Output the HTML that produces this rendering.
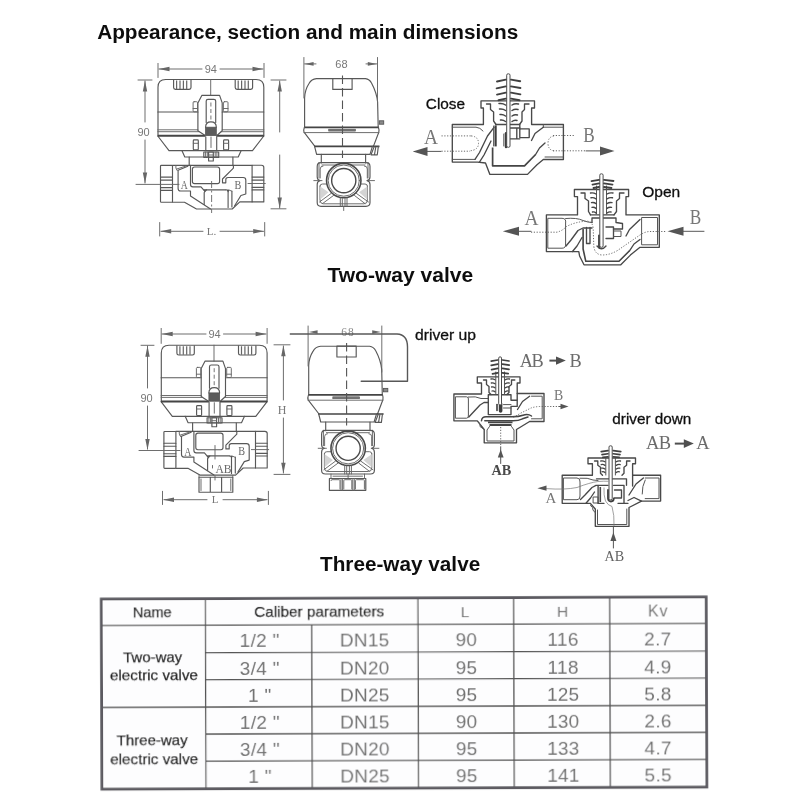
<!DOCTYPE html>
<html>
<head>
<meta charset="utf-8">
<title>Valve dimensions</title>
<style>
html,body{margin:0;padding:0;background:#fff;}
body{width:800px;height:800px;overflow:hidden;position:relative;font-family:"Liberation Sans",sans-serif;}
svg{position:absolute;left:0;top:0;display:block;}
.h{font-family:"Liberation Sans",sans-serif;font-weight:bold;font-size:20.6px;fill:#111;}
.lb{font-family:"Liberation Sans",sans-serif;font-size:14px;fill:#111;stroke:#111;stroke-width:0.3px;}
.tk{font-family:"Liberation Sans",sans-serif;font-size:14.6px;fill:#1a1a1a;stroke:#1a1a1a;stroke-width:0.25px;}
.tg{font-family:"Liberation Sans",sans-serif;font-size:19px;fill:#727272;letter-spacing:0.3px;}
.sf{font-family:"Liberation Serif",serif;fill:#777;}
.dm{font-family:"Liberation Sans",sans-serif;font-size:11px;fill:#777;}
.ln{fill:none;stroke:#585858;stroke-width:1.15;stroke-linejoin:round;stroke-linecap:round;}
.lt{fill:none;stroke:#666;stroke-width:0.95;stroke-linejoin:round;stroke-linecap:round;}
.lk{fill:none;stroke:#444;stroke-width:1.4;stroke-linejoin:round;stroke-linecap:round;}
.dt{fill:none;stroke:#666;stroke-width:1;stroke-dasharray:1.2 1.6;}
.ds{fill:none;stroke:#666;stroke-width:0.9;stroke-dasharray:5 3;}
.ah{fill:#666;stroke:none;}
.sv{fill:none;stroke:#484848;stroke-width:1.35;stroke-linejoin:round;stroke-linecap:round;}
.sw{fill:none;stroke:#555;stroke-width:1;stroke-linejoin:round;stroke-linecap:round;}
.ad{fill:#555;stroke:none;}
</style>
</head>
<body>
<svg width="800" height="800" viewBox="0 0 800 800">
<rect x="0" y="0" width="800" height="800" fill="#ffffff"/>
<defs>
<filter id="gs" x="-3%" y="-5%" width="106%" height="110%"><feGaussianBlur stdDeviation="0.18"/></filter>
<filter id="soft" x="-2%" y="-2%" width="104%" height="104%"><feGaussianBlur stdDeviation="0.38"/></filter>
<g id="actF">
<!-- actuator front view, absolute coords of two-way drawing -->
<path class="ln" d="M158 136 V87.2 Q158 79.5 165.7 79.5 H256.1 Q263.8 79.5 263.8 87.2 V136"/>
<path class="ln" d="M157.8 136 L169 150.6 H252.5 L263.8 136"/>
<!-- vents -->
<path class="ln" d="M173.6 80 V87.6 Q173.6 89.3 175.4 89.3 H189.2 Q191 89.3 191 87.6 V80"/>
<path d="M176.6 80.5 V89 M180 80.5 V89 M183.4 80.5 V89 M186.7 80.5 V89" fill="none" stroke="#666" stroke-width="1.2"/>
<path class="ln" d="M235.2 80 V87.6 Q235.2 89.3 237 89.3 H250.8 Q252.6 89.3 252.6 87.6 V80"/>
<path d="M238.2 80.5 V89 M241.6 80.5 V89 M245 80.5 V89 M248.3 80.5 V89" fill="none" stroke="#666" stroke-width="1.2"/>
<!-- centre line -->
<path class="lt" d="M210.7 79.5 V95.4"/>
<!-- horizontal lines -->
<path class="ln" d="M157.8 112 H197.9 M222.2 112 H263.8"/>
<path class="lt" d="M157.8 129.8 H197.9 M222.2 129.8 H263.8 M157.8 131.7 H199 M221.2 131.7 H263.8"/>
<path d="M157.8 135.8 H205.6 M216.3 135.8 H263.8" fill="none" stroke="#444" stroke-width="1.9"/>
<!-- centre piece -->
<path class="ln" d="M204.4 135 L197.9 130.8 V102.9 L201.8 95.4 H219.6 L222.2 102.9 V130.8 L217.5 135"/>
<!-- slot -->
<path class="ln" d="M206.2 122.5 V101 Q206.2 99.3 208 99.3 H213.9 Q215.7 99.3 215.7 101 V122.5"/>
<path class="ds" d="M210.9 102.5 V121" style="stroke-dasharray:4 2.5"/>
<!-- dome + dark -->
<path class="ln" d="M205.6 127.2 Q205.6 121.9 210.95 121.9 Q216.3 121.9 216.3 127.2" fill="#fff"/>
<rect x="205.6" y="127.2" width="10.7" height="8.3" fill="#5c5c5c" stroke="#555" stroke-width="0.8"/>
<!-- upper screws -->
<rect class="lt" x="193.1" y="101.7" width="4.4" height="10.1" rx="1"/>
<path class="lt" d="M193.1 108.5 H197.5"/>
<rect class="lt" x="223.4" y="101.7" width="4.6" height="10.1" rx="1"/>
<path class="lt" d="M223.4 108.5 H228"/>
<!-- lower screws -->
<rect class="ln" x="193.3" y="139.9" width="5" height="9.9" rx="0.8"/>
<path class="lt" d="M193.3 143.3 H198.3"/>
<rect class="ln" x="223.6" y="139.9" width="5" height="9.9" rx="0.8"/>
<path class="lt" d="M223.6 143.3 H228.6"/>
<!-- stem -->
<path class="ln" d="M205.8 136.7 V150.6 M216.7 136.7 V150.6"/>
<path class="lt" d="M211 137 V147.5"/>
<!-- sub trapezoid -->
<path class="ln" d="M181.9 150.6 L184.8 157 H238.2 L241.2 150.6"/>
<!-- nut -->
<rect class="ln" x="203.8" y="152" width="14.9" height="5.3" fill="#fff"/>
<path class="lt" d="M205.6 152 V157.3 M207.3 152 V157.3 M215.2 152 V157.3 M216.9 152 V157.3"/>
<rect class="ln" x="208.6" y="152" width="4.7" height="9" fill="#fff"/>
<path class="lt" d="M208.6 155 H213.3"/>
</g>
<g id="actS">
<!-- side actuator (two-way absolute coords) -->
<path class="ln" d="M304.6 127.2 V98 Q304.8 90 309 83.5 Q311.5 79 316.5 78.6 H365.5 Q369.5 79 371.5 83 Q376.8 93 377.6 102 L378.2 127.2"/>
<rect class="ln" x="332.8" y="78.5" width="19.3" height="10.9"/>
<path d="M304.3 127.3 H378.6" fill="none" stroke="#444" stroke-width="1.7"/>
<path class="ln" d="M304.4 127.3 Q303.3 130 304 132.2 L314.9 146.4 M378.4 127.3 Q379.4 130 378.8 132.2 L373.4 146.4"/>
<path class="lt" d="M304 132.6 H378.8"/>
<rect x="328.7" y="129.2" width="26.8" height="1.9" fill="#777" stroke="#555" stroke-width="0.6"/>
<path d="M314 146.4 H379.5" fill="none" stroke="#444" stroke-width="1.6"/>
<path class="ln" d="M314.6 146.4 L316.6 154.4 H370 L372.4 146.4"/>
<!-- knob and clip -->
<rect x="379.3" y="120.8" width="4.4" height="3.4" style="fill:#8a8a8a;stroke:#555;stroke-width:0.9"/>
<path class="ln" d="M374.2 146.6 L371 154.8 H377.3 L378.3 146.6 M375.8 147 L374.5 154.5"/>
<!-- centre dashed -->
<path d="M342.5 75.5 V158" fill="none" stroke="#555" stroke-width="1.1" stroke-dasharray="8.5 4"/>
</g>
<g id="bodyF">
<!-- valve body two-way front -->
<path class="ln" d="M189.2 157 V165.2 M232.9 157 V165.2"/>
<rect class="ln" x="160.5" y="165.4" width="12" height="36.9" rx="0.8"/>
<path class="ln" d="M252.1 165.2 H261.5 Q263.8 165.2 263.8 167.5 V201.9 H252.1 Z"/>
<path class="ln" d="M160.5 177.1 H172.5 M160.5 180.1 H172.5 M160.5 187.6 H172.5 M160.5 190.3 H172.5 M252.1 177.1 H263.8 M252.1 180.1 H263.8 M252.1 187.3 H263.8 M252.1 189.9 H263.8"/>
<path class="ln" d="M172.5 165.3 H252.1"/>
<path class="ln" d="M172.5 202.2 H184.5 L196.5 209 H232.2 L239.8 201.9 H252.1"/>
<!-- A chamber -->
<path class="lt" d="M175.9 165.4 V168 L177.2 170.5 M176.8 169 L186 166"/>
<path class="ln" d="M187.8 166.2 L178.1 170.2 V188.5 Q178.1 191 180.6 191 H190.5 V196 L210.5 209"/>
<!-- centre chamber -->
<rect class="ln" x="192.4" y="167" width="27.2" height="16.6" rx="2.2"/>
<path class="ln" d="M190.5 165.2 V184.5 Q190.5 186.8 192.8 186.8 H201 L203.6 189.8 H226"/>
<path class="ln" d="M233.4 165.2 V168.1 L222.5 179 V182.8 H225.8 V179.6 Q225.8 177.5 228 177.5 H243.2 Q245.8 177.5 245.8 180.2 V194 L240.9 195.5 L234.5 206"/>
<!-- lower chamber -->
<path class="ln" d="M204.2 204.5 V192.5 L206.5 189.8 M228.1 190.2 V207.5 M231.9 191 V207"/>
<path class="lt" d="M226 189.8 Q229.5 189.5 231.9 191.2"/>
<path d="M203.2 189.8 L204.6 192.3 L206 189.8 Z M226.6 189.9 L228.1 192.5 L229.6 190 Z" fill="#555"/>
<!-- centre dashed -->
<!-- ref lines -->
<path class="lt" d="M248 183.5 H265.3"/>
</g>
<g id="bodyS">
<!-- neck -->
<path class="ln" d="M321.3 154.4 V163 M365.6 154.4 V163"/>
<path class="lt" d="M319 162.5 V178 M368 162.5 V178"/>
<!-- body -->
<path class="ln" d="M321 162.6 H366 Q370 162.6 370 166.5 V177 Q370 180 367 180.6 Q370 181.2 370 184.5 V202.5 Q370 206.3 366 206.3 H321 Q317.2 206.3 317.2 202.5 V184.5 Q317.2 181.2 320 180.6 Q317.2 180 317.2 177 V166.5 Q317.2 162.6 321 162.6 Z"/>
<path class="lt" d="M322 165 H365 M320 186 Q320 184 322.5 184 H329 M367.4 186 Q367.4 184 365 184 H358.5 M320 186 V200 Q320 203.8 323.5 203.8 H364 Q367.4 203.8 367.4 200 V186"/>
<path d="M320.2 186.5 L328.5 192.3 L320.2 199.5 Z M367.3 186.5 L359 192.3 L367.3 199.5 Z" fill="#d4d4d4"/>
<path class="lt" d="M331 193.5 L319.5 202 M356.5 193.5 L368.5 202 M333.5 195.5 L322.5 203.6 M354.5 195.5 L365 203.6"/>
<path class="lt" d="M323 166 Q320.2 166 320.2 169 V178 M364.5 166 Q367.3 166 367.3 169 V178"/>
<circle cx="343.75" cy="180.6" r="17.2" fill="#fff" stroke="#4a4a4a" stroke-width="1.6"/>
<circle class="lt" cx="343.75" cy="180.6" r="15.6"/>
<circle cx="343.75" cy="180.6" r="12.1" fill="#fff" stroke="#4a4a4a" stroke-width="1.4"/>
<path class="lt" d="M313.8 180.6 H322 M368.8 180.6 H374.5"/>
<path class="lt" d="M340.3 198 V206.3 M347 198 V206.3 M342.3 198.5 V206.3 M345 198.5 V206.3"/>
<path class="lt" d="M343.7 206.3 V210.5"/>
</g>
</defs>


<!-- HEADINGS -->
<g id="heads" filter="url(#gs)">
<text class="h" x="97.2" y="38.6" style="font-size:20.65px" textLength="421" lengthAdjust="spacingAndGlyphs">Appearance, section and main dimensions</text>
<text class="h" x="327.5" y="282.2" style="font-size:20.8px" textLength="145.6" lengthAdjust="spacingAndGlyphs">Two-way valve</text>
<text class="h" x="320" y="570.9" style="font-size:20.6px" textLength="160.2" lengthAdjust="spacingAndGlyphs">Three-way valve</text>

</g>
<g id="drawings" filter="url(#soft)">
<!-- TWO-WAY FRONT -->
<g id="tw-front">
<use href="#actF"/>
<use href="#bodyF"/>
<path class="ds" d="M211.6 181 V213" style="stroke-dasharray:7 2.5 2 2.5"/>

<text class="sf" x="184.3" y="188.9" text-anchor="middle" style="font-size:13px;fill:#666" textLength="7" lengthAdjust="spacingAndGlyphs">A</text>
<text class="sf" x="237.9" y="189.1" text-anchor="middle" style="font-size:13px;fill:#666" textLength="6.8" lengthAdjust="spacingAndGlyphs">B</text>
<!-- dim 94 -->
<path class="lt" d="M158 63.4 V77.5 M264 63.4 V77.5"/>
<path class="lt" d="M159 69 H202 M220 69 H263"/>
<path class="ah" d="M158.6 69 L169.5 66.8 V71.2 Z M263.4 69 L252.5 66.8 V71.2 Z"/>
<text class="dm" x="210.8" y="73" text-anchor="middle">94</text>
<!-- dim 90 -->
<path class="lt" d="M138 80 H152 M136 184.4 H179"/>
<path class="lt" d="M145 81 V122 M145 140 V183"/>
<path class="ah" d="M145 80.6 L142.8 91.5 H147.2 Z M145 183.4 L142.8 172.5 H147.2 Z"/>
<text class="dm" x="143.5" y="135.5" text-anchor="middle">90</text>
<!-- right dim -->
<path class="lt" d="M271 80 H286 M271 208.8 H286"/>
<path class="lt" d="M279.7 81 V132 M279.7 155 V208"/>
<path class="ah" d="M279.7 80.6 L277.5 91.5 H281.9 Z M279.7 208.4 L277.5 197.5 H281.9 Z"/>
<!-- dim L -->
<path class="lt" d="M159.7 222.5 V236 M264.7 222.5 V236"/>
<path class="lt" d="M161 231.3 H203 M220 231.3 H263.5"/>
<path class="ah" d="M160.3 231.3 L171.2 229.1 V233.5 Z M264.1 231.3 L253.2 229.1 V233.5 Z"/>
<text class="sf" x="211.5" y="234.5" text-anchor="middle" style="font-size:11px">L.</text>
</g>
<!-- TWO-WAY SIDE -->
<g id="tw-side">
<use href="#actS"/>
<!-- dim 68 -->
<path class="lt" d="M303.9 57.5 V98 M377.5 57.5 V104"/>
<path class="ah" d="M304.6 63.9 L313.6 62 V65.8 Z M376.8 63.9 L367.8 62 V65.8 Z"/>
<path class="lt" d="M304.6 63.9 H316 M366 63.9 H376.8"/>
<text class="dm" x="341.4" y="68" text-anchor="middle">68</text>
<use href="#bodyS"/>
</g>
<!-- TWO-WAY CLOSE -->
<g id="tw-close">
<!-- outer outline -->
<path class="sv" d="M452.3 124.5 H483.4 V108 H481 V100.9 H534.5 V108 H531.6 V124.5 H563.4 V159.5 H543.3 L537 164.8 L527.5 174.4 H489.9 L485.5 163 L477.6 162.1 H452.3 Z"/>
<!-- pipe inner lines -->
<path class="sw" d="M452.3 127.2 H476 Q480 127.4 483 131 M452.3 159.4 H475 M543.3 127.2 H563.4 M545 157 H563.4 M543.3 124.5 V127.2"/>
<!-- left diagonal walls -->
<path class="sv" d="M475 159.4 L479.5 152.5 L487.5 136 L494 127.4 M479.3 162.3 L484 155 L491 141"/>
<!-- bonnet inner -->
<path class="sv" d="M486.5 104 H490.5 V109.5 L493.6 112 V121 L496 124.5 M529 104 H524.5 V109.5 L522 112 V121 L519.5 124.5"/>
<path class="sv" d="M496 124.5 H506 M510.5 124.5 H519.8 V128.9"/>
<!-- seat -->
<path d="M495.6 125.4 V146.4" fill="none" stroke="#3c3c3c" stroke-width="2.2"/>
<path class="sw" d="M493.6 126 V146"/>
<!-- inner bottom L -->
<path d="M492.6 147.5 V165.8 H524.5 L535.6 154.5" fill="none" stroke="#444" stroke-width="1.7" stroke-linejoin="round"/>
<!-- right diagonal -->
<path class="sv" d="M531.5 140.5 L535 133.5 L543.3 127.2 M535.6 154.5 L539.5 148 L545 143"/>
<!-- small box + disc -->
<rect class="sv" x="519.8" y="128.9" width="9.4" height="8.7"/>
<path class="sv" d="M510.5 128 H519.8 M510.5 138.8 H519.8 M516.8 128 V138.8"/>
<path d="M506 133.3 V147" fill="none" stroke="#3c3c3c" stroke-width="2.4" stroke-linecap="round"/>
<path class="sw" d="M503.8 134 V146"/>
<!-- stem -->
<rect x="506.7" y="73.8" width="3.3" height="73.5" rx="1.4" fill="#fff" stroke="#4a4a4a" stroke-width="1"/>
<!-- spring coils above bonnet -->
<path d="M497 81.5 L505.8 79.6 M511 79.6 L520.2 81.2 M496.6 88.4 L505.8 86.4 M511 86.4 L520.4 88 M497 94.6 L505.8 92.6 M511 92.6 L520.4 94.4 M498.5 100.2 L505.8 98.6 M511 98.6 L519.5 100.2" fill="none" stroke="#3f3f3f" stroke-width="1.9" stroke-linecap="round"/>
<!-- coils inside bonnet -->
<path d="M499 103.5 Q503 103 505.5 105 M499.5 109 Q503 108.5 505.5 110.5 M500 114.5 Q503 114 505.5 116 M500.5 120 Q503 119.5 505.5 121.5 M512 105 Q515 103 518.5 104 M512 110.5 Q515 108.5 518 109.5 M512 116 Q515 114 517.5 115 M512 121.5 Q514.5 119.5 517 120.5" fill="none" stroke="#444" stroke-width="1.5" stroke-linecap="round"/>
<!-- dotted flow -->
<path class="dt" d="M441.5 135.9 H472 M441.5 151.2 H470 M553 135.5 H574 M553 150.8 H586"/>
<path class="dt" d="M471 135.9 Q478.5 136.5 478.5 143.3 Q478.5 150 470 150.8 M554 135.9 Q548 137 548 143.3 Q548 150 554 150.8"/>
<path class="sw" d="M420 151.4 H441 M586 150.9 H601"/>
<path class="ad" d="M412.7 151.4 L427.5 146.9 V155.9 Z M614.5 150.9 L600 146.4 V155.6 Z"/>
<text class="sf" x="431" y="143.6" text-anchor="middle" style="font-size:22px" textLength="14" lengthAdjust="spacingAndGlyphs">A</text>
<text class="sf" x="588.9" y="142.4" text-anchor="middle" style="font-size:22px" textLength="11.5" lengthAdjust="spacingAndGlyphs">B</text>
</g>
<!-- TWO-WAY OPEN -->
<g id="tw-open">
<!-- outer outline -->
<path class="sv" d="M546.4 214.9 H577.5 V196.6 H574.4 V189.5 H628.6 V196.6 H626 V214.9 H659.3 V247.3 H640 L630.4 255.1 L620.8 264.8 H584 L579.6 256 L578.8 251.6 H546.4 Z"/>
<!-- pipe inner -->
<path class="sw" d="M548.2 218.3 H562 Q566.5 218.5 565.6 223 V244 Q566 248.2 562 248.2 H548.2 Z M642 217.5 H657.5 V244.8 H642 Z"/>
<path class="sw" d="M565.6 218.5 Q577 217.5 583 220.5 Q588 222.5 592 222.5"/>
<!-- left diagonal -->
<path class="sv" d="M566 246 L571 240 L578 230.5 L583 228 H592"/>
<path class="sv" d="M572.5 251.5 L577 246 L582 237.5"/>
<!-- inner bottom -->
<path d="M583.1 229 V249 L585.8 261.3 H619 L629.5 250.8" fill="none" stroke="#444" stroke-width="1.6" stroke-linejoin="round"/>
<path class="sv" d="M626 236 L629.5 229.5 L640 219.5 M629.5 250.8 L634 244 L640 239.5"/>
<!-- seat / cage -->
<path class="sv" d="M586.5 227.5 V243.5 H590 V227.5"/>
<path class="sv" d="M592 222.5 V218 H599.5 M603.5 218 H616 V222.5 L622.5 223.5 V229 H613.5"/>
<path class="sv" d="M606 227 H613.5 V238.5 H606"/>
<path class="sw" d="M613.5 231 H621 V236.5 H613.5"/>
<!-- disc -->
<path d="M599.2 235.5 V247.5" fill="none" stroke="#3c3c3c" stroke-width="2.2" stroke-linecap="round"/>
<path class="sv" d="M597 246 Q601.5 251.5 606 246"/>
<!-- bonnet inner -->
<path class="sv" d="M581 193 H585 V198.5 L588.5 201 V211.5 L590.5 214.9 M624 193 H619.5 V198.5 L616.5 201 V211.5 L614 214.9"/>
<path class="sv" d="M590.5 214.9 H599.5 M603.5 214.9 H614"/>
<!-- stem -->
<rect x="599.8" y="173.8" width="3.3" height="73.5" rx="1.4" fill="#fff" stroke="#4a4a4a" stroke-width="1"/>
<path class="sw" d="M596.5 186 V214 M606.5 186 V214"/>
<!-- top compressed coils -->
<path d="M591.5 181.2 L599 179.8 M604 179.8 L613.5 181 M592.5 184.6 L599 183.4 M604 183.4 L612.5 184.6 M593.5 188 L599 187 M604 187 L611.5 188" fill="none" stroke="#3f3f3f" stroke-width="1.8" stroke-linecap="round"/>
<!-- inner coils -->
<path d="M590.5 193 Q593.5 192.4 596 194 M591 197.8 Q593.5 197.2 596 198.8 M591.5 202.6 Q594 202 596 203.6 M592 207.4 Q594 206.8 596 208.4 M592.5 212 Q594.5 211.5 596 213 M607 194 Q609.5 192.4 613 193 M607 198.8 Q609.5 197.2 612.5 197.8 M607 203.6 Q609.5 202 612 202.6 M607 208.4 Q609 206.8 611.5 207.4 M607 213 Q609 211.5 611 212" fill="none" stroke="#444" stroke-width="1.4" stroke-linecap="round"/>
<!-- dotted flow -->
<path class="dt" d="M531 232.2 H557 Q562 231 566.5 226.5 Q576 221.5 587.5 221.2 Q593 222 593.2 229 L593.8 246 Q594.5 254.5 602 255 Q610 255 617.5 250.5 L640 235 Q645 231.6 650 231.5 H666"/>
<!-- arrows -->
<path class="sw" d="M518 231.3 H531 M682 231.3 H704"/>
<path class="ad" d="M502.8 231.3 L519 226.8 V235.8 Z M667.5 231.3 L683.5 226.8 V235.8 Z"/>
<text class="sf" x="531.5" y="225" text-anchor="middle" style="font-size:22px" textLength="14" lengthAdjust="spacingAndGlyphs">A</text>
<text class="sf" x="695.5" y="224" text-anchor="middle" style="font-size:22px" textLength="11.5" lengthAdjust="spacingAndGlyphs">B</text>
</g>
<!-- THREE-WAY FRONT -->
<g id="th-front">
<use href="#actF" transform="translate(3.3 265.7)"/>
<use href="#bodyF" transform="translate(3.4 266.1)"/>
<path class="lt" d="M215 445.5 V459 M215 476 V480"/>
<path class="lt" d="M212.5 465.5 V468"/>
<!-- bottom port -->
<path class="ln" d="M199 477.2 H232.8 V492.2 H199 Z M210.3 477.2 V492.2 M221.6 477.2 V492.2"/>
<path class="lt" d="M201 479 V490.5 M230.8 479 V490.5 M199 475.3 V477.2 M232.8 475.3 V477.2"/>
<text class="sf" x="187.8" y="455.6" text-anchor="middle" style="font-size:13px;fill:#666" textLength="7.2" lengthAdjust="spacingAndGlyphs">A</text>
<text class="sf" x="241.7" y="455.4" text-anchor="middle" style="font-size:13px;fill:#666" textLength="6.8" lengthAdjust="spacingAndGlyphs">B</text>
<text class="sf" x="223.4" y="472.5" text-anchor="middle" style="font-size:11.5px;fill:#666">AB</text>
<!-- dim 94 -->
<path class="lt" d="M161.2 328.4 V343.4 M267.1 328.4 V343.4"/>
<path class="lt" d="M162 334 H206 M223.5 334 H266"/>
<path class="ah" d="M161.8 334 L172.7 331.8 V336.2 Z M266.5 334 L255.6 331.8 V336.2 Z"/>
<text class="dm" x="214.5" y="338.2" text-anchor="middle">94</text>
<!-- dim 90 -->
<path class="lt" d="M141 345.3 H154 M139 450.5 H180"/>
<path class="lt" d="M147.5 346 V388 M147.5 406 V449"/>
<path class="ah" d="M147.5 345.8 L145.3 356.7 H149.7 Z M147.5 450 L145.3 439.1 H149.7 Z"/>
<text class="dm" x="146.5" y="401.5" text-anchor="middle">90</text>
<!-- dim H -->
<path class="lt" d="M274 344.8 H290 M274 474.4 H290"/>
<path class="lt" d="M283.4 346 V400 M283.4 418 V473"/>
<path class="ah" d="M283.4 345.3 L281.2 356.2 H285.6 Z M283.4 473.6 L281.2 462.7 H285.6 Z"/>
<text class="sf" x="282.2" y="413.6" text-anchor="middle" style="font-size:12px">H</text>
<!-- dim L -->
<path class="lt" d="M162.5 491.3 V504.5 M268.4 491.3 V504.5"/>
<path class="lt" d="M164 499.7 H207 M223 499.7 H267"/>
<path class="ah" d="M163.1 499.7 L174 497.5 V501.9 Z M267.8 499.7 L256.9 497.5 V501.9 Z"/>
<text class="sf" x="215" y="503.4" text-anchor="middle" style="font-size:11px">L</text>
</g>
<!-- THREE-WAY SIDE -->
<g id="th-side">
<use href="#actS" transform="translate(4.1 267.6)"/>
<use href="#bodyS" transform="translate(4.4 267.7)"/>
<!-- bottom nut -->
<path class="ln" d="M329.4 478.5 H365.8 V490.3 H329.4 Z"/>
<path class="lt" d="M331 474 V478.5 M364.5 474 V478.5 M333 476.2 H362.5 M341 478.5 V490.3 M342.6 478.5 V490.3 M352.8 478.5 V490.3 M354.3 478.5 V490.3"/>
<path class="lt" d="M331 480.5 Q331 479.7 332 479.7 H339 Q340 479.7 340 480.5 V489 M343.8 489 V480.5 Q343.8 479.7 344.8 479.7 H351 Q351.8 479.7 351.8 480.5 V489 M355.4 489 V480.5 Q355.4 479.7 356.4 479.7 H363.5 Q364.4 479.7 364.4 480.5 V489"/>
<!-- dim 68 -->
<path class="lt" d="M308.1 326 V366 M381.8 326 V372"/>
<path class="ah" d="M308.8 332 L317.6 330.2 V333.8 Z M381 332 L372.2 330.2 V333.8 Z"/>
<text class="sf" x="348" y="335.6" text-anchor="middle" style="font-size:11.5px;letter-spacing:1px;fill:#888">68</text>
<!-- leader line -->
<path class="ln" style="stroke-width:1.4" d="M290.3 334 H397 Q407.5 334.5 407.5 347 V381.3 H361.2"/>
</g>
<!-- THREE-WAY UP -->
<g id="th-up">
<!-- outer outline -->
<path class="sv" d="M453.9 394 H481.5 V383 H477.3 V376.8 H520 V383 H517.2 V393.5 H544 V421.5 H529.6 L516.5 429.5 V442.8 H484.2 V429.5 L477.3 420.8 H453.9 Z"/>
<!-- pipe inner -->
<path class="sw" d="M455.8 396.8 H466.5 Q469 397 468.4 400 V415 Q468.8 418.2 466.5 418.2 H455.8 Z M531.5 396.2 H542.2 V418.8 H531.5"/>
<path class="sw" d="M468.4 397 Q476 396 481 398.5 L488 398.5"/>
<path class="sv" d="M468.8 417 L473 412.5 L480 405 L484 402.5 H488"/>
<path class="sv" d="M517.2 393.5 V400 M529.6 396.2 L522.5 401.5 L517.5 409.5"/>
<!-- cage -->
<path class="sv" d="M488.3 414.6 V394.7 H497.8 M502 394.7 H511 V400.2 H517.2 V406.4 H511 V414.6 H488.3"/>
<path class="sw" d="M503.5 404.6 H511 M503.5 408 H511"/>
<!-- disc -->
<path d="M500.6 404 V411" fill="none" stroke="#3a3a3a" stroke-width="3.6" stroke-linecap="round"/>
<path d="M497 404.5 V410.5" fill="none" stroke="#3c3c3c" stroke-width="1.6" stroke-linecap="round"/>
<!-- seat plate -->
<path d="M481.5 420.8 Q481.8 416.8 486 416.8 H512 Q519 416.6 523 415.2 Q528 413.6 531.5 416 M484.8 420.8 H513 Q518.5 420.8 522.5 418.8 L528 417" fill="none" stroke="#444" stroke-width="1.5" stroke-linecap="round" stroke-linejoin="round"/>
<!-- gasket -->
<path d="M488 422.3 H512.5 M489.5 425 H511.5" fill="none" stroke="#444" stroke-width="1.8"/>
<path class="sw" d="M489.5 426.5 L487 430 V441 H514 V430 L511.5 426.5"/>
<path class="sw" d="M478.5 422 Q481 424.5 480 426.5 L484.2 429.5"/>
<!-- bonnet inner -->
<path class="sv" d="M483.5 380 H486.5 V384.5 L489 386.5 V392.5 L491 394.5 M514.8 380 H511.5 V384.5 L509 386.5 V392.5 L507 394.5"/>
<!-- stem -->
<rect x="498.7" y="356.9" width="2.8" height="48" rx="1.2" fill="#fff" stroke="#4a4a4a" stroke-width="1"/>
<path class="sw" d="M495.8 372 V394.5 M504.5 372 V394.5"/>
<!-- coils -->
<path d="M491.2 361.2 L497.8 360 M502.4 360 L509 361 M491.2 365.4 L497.8 364.2 M502.4 364.2 L509.2 365.2 M491.6 369.6 L497.8 368.4 M502.4 368.4 L509 369.4 M492.5 373.8 L497.8 372.8 M502.4 372.8 L508.2 373.6" fill="none" stroke="#3f3f3f" stroke-width="1.7" stroke-linecap="round"/>
<path d="M491 379 Q493 378.5 495 379.8 M491.3 383 Q493.2 382.5 495 383.8 M491.6 387 Q493.4 386.5 495 387.8 M492 391 Q493.6 390.5 495 391.8 M505.3 379.8 Q507 378.5 509.5 379 M505.3 383.8 Q507 382.5 509.2 383 M505.3 387.8 Q507 386.5 508.8 387 M505.3 391.8 Q506.8 390.5 508.4 391" fill="none" stroke="#444" stroke-width="1.3" stroke-linecap="round"/>
<!-- dotted flow -->
<path class="dt" d="M513.5 417.5 L520 413.5 L531 408 Q535 406.6 540 406.5 H560"/>
<path class="dt" d="M500.7 427 V447"/>
<path class="sw" d="M559 406.5 H563"/>
<path class="ad" d="M568.5 406.5 L560.5 403.8 V409.2 Z"/>
<!-- up arrow -->
<path class="sw" d="M500.7 447 V463.5"/>
<path class="ad" d="M500.7 449.4 L497.8 457.6 H503.6 Z"/>
<text class="sf" x="519.8" y="366.9" style="font-size:18.3px;fill:#6c6c6c" textLength="24" lengthAdjust="spacing">AB</text>
<path d="M549.4 360.6 H558" fill="none" stroke="#505050" stroke-width="2"/>
<path d="M565.8 360.6 L556 356.5 V364.7 Z" fill="#505050"/>
<text class="sf" x="569.6" y="366.9" style="font-size:18.3px;fill:#6c6c6c">B</text>
<text class="sf" x="558.5" y="400.4" text-anchor="middle" style="font-size:13.8px">B</text>
<text class="sf" x="491.4" y="475" style="font-size:14.2px;fill:#4a4a4a;font-weight:bold" textLength="19.8" lengthAdjust="spacingAndGlyphs">AB</text>
</g>
<!-- THREE-WAY DOWN -->
<g id="th-down">
<!-- outer outline -->
<path class="sv" d="M562.2 475.2 H592.4 V463.7 H588 V458 H635.5 V463.7 H632.6 V475.2 H660.6 V501.1 H641.5 L629 507.5 V526.3 H595.3 V509 L590.2 503.3 H562.2 Z"/>
<!-- pipe inner -->
<path class="sw" d="M563.8 478 H577 Q580.5 478.2 580 482 V496 Q580.3 499.7 577 499.7 H563.8 Z M645.2 478 H659 V498.6 H645.2"/>
<path class="sw" d="M580 478.2 Q588 477.5 593 480 L598 480.5"/>
<path class="sv" d="M580.5 499.5 L585 495 L592 487.5 L596 485.3 H598"/>
<path class="sv" d="M586 503.3 L590.5 498 L594.5 492"/>
<path class="sv" d="M632.6 475.2 V486 M643.4 478 L636 484 L629 495 M641.5 501.1 L634 497.5 L628 500.5"/>
<path class="sw" d="M645.2 480 Q642 486 642.2 494"/>
<!-- cage -->
<path class="sv" d="M598.1 503.3 V485.3 H608 M613.5 485.3 H624 V503.3 M596.5 478.8 H626.5 V485.3"/>
<path class="sv" d="M614.5 490 H621.5 V498 H614.5"/>
<path d="M600.3 487 V502" fill="none" stroke="#444" stroke-width="1.6"/>
<path class="sw" d="M593.5 497 H598.1 V503 H593.5 Z"/>
<!-- U disc -->
<path d="M608 490 V498.5 Q608.3 501.5 611 501.5 Q613.6 501.5 613.8 498.5" fill="none" stroke="#3c3c3c" stroke-width="1.8" stroke-linecap="round"/>
<!-- lower port -->
<path class="sw" d="M597.5 510 V524.5 H626.8 V509"/>
<path class="sw" d="M590.5 505.5 Q593.5 507.5 593 510 Q594 512 595.3 512.5"/>
<path class="sv" d="M598.1 503.3 H604 M618 503.3 H628"/>
<!-- bonnet inner -->
<path class="sv" d="M594.5 461 H597.8 V465.2 L600.5 467.2 V473.2 L602.5 475.2 M630 461 H626.6 V465.2 L624 467.2 V473.2 L622 475.2"/>
<!-- stem -->
<rect x="609" y="445.8" width="3.2" height="54" rx="1.3" fill="#fff" stroke="#4a4a4a" stroke-width="1"/>
<path class="sw" d="M605.8 458 V475 M615.4 458 V475"/>
<!-- coils -->
<path d="M601.2 451.6 L608 450.6 M613.2 450.6 L620.8 451.6 M602 454.6 L608 453.8 M613.2 453.8 L620 454.6 M602.8 457.4 L608 456.8 M613.2 456.8 L619.2 457.4" fill="none" stroke="#3f3f3f" stroke-width="1.6" stroke-linecap="round"/>
<path d="M600.8 461 Q603 460.5 605 461.8 M601.2 464.6 Q603.2 464.1 605 465.4 M601.6 468.2 Q603.4 467.7 605 469 M602 471.8 Q603.6 471.3 605 472.6 M616.2 461.8 Q618 460.5 620.5 461 M616.2 465.4 Q618 464.1 620.2 464.6 M616.2 469 Q617.8 467.7 619.8 468.2 M616.2 472.6 Q617.6 471.3 619.4 471.8" fill="none" stroke="#444" stroke-width="1.3" stroke-linecap="round"/>
<!-- thin flow lines -->
<path d="M546 488.6 Q565 490 577 487.5 Q590 482.5 598 481.5 Q604 481 608.5 481.3 M604 487.5 Q603.5 495 605.5 501 Q608 505.5 612 506.5 Q614.5 515 614 526" fill="none" stroke="#777" stroke-width="0.7"/>
<!-- left arrow -->
<path class="ad" d="M537.4 488.2 L546.5 485.6 V490.8 Z"/>
<!-- up arrow -->
<path class="sw" d="M613.4 527 V548"/>
<path class="ad" d="M613.4 532.2 L610.4 541 H616.4 Z"/>
<text class="sf" x="646" y="449" style="font-size:18.5px;fill:#6c6c6c" textLength="25" lengthAdjust="spacing">AB</text>
<path d="M674.8 443.6 H685" fill="none" stroke="#505050" stroke-width="2"/>
<path d="M693.8 443.6 L683.8 439.3 V447.9 Z" fill="#505050"/>
<text class="sf" x="696.3" y="449" style="font-size:18.5px;fill:#6c6c6c">A</text>
<text class="sf" x="551" y="502.6" text-anchor="middle" style="font-size:15px">A</text>
<text class="sf" x="604.5" y="560.8" style="font-size:14.2px;fill:#606060" textLength="19.6" lengthAdjust="spacingAndGlyphs">AB</text>
</g>

</g>
<g id="labels" filter="url(#gs)">
<text class="lb" x="425.8" y="109.2" style="font-size:15.5px" textLength="39.3" lengthAdjust="spacingAndGlyphs">Close</text>
<text class="lb" x="642.2" y="197.3" style="font-size:15.5px" textLength="38" lengthAdjust="spacingAndGlyphs">Open</text>
<text class="lb" x="415" y="339.5" style="font-size:15.5px" textLength="61" lengthAdjust="spacingAndGlyphs">driver up</text>
<text class="lb" x="612.3" y="423.7" style="font-size:15.5px" textLength="79" lengthAdjust="spacingAndGlyphs">driver down</text>
</g>
<!-- TABLE -->
<g id="table" transform="translate(0 0.4) rotate(-0.2 403 692)" filter="url(#gs)">
<rect x="101.6" y="597.6" width="604.9" height="190.10000000000002" fill="#fdfdfe"/>
<line x1="101.6" y1="624.1" x2="706.5" y2="624.1" stroke="#555" stroke-width="1.3"/>
<line x1="205.6" y1="651.6" x2="706.5" y2="651.6" stroke="#555" stroke-width="1.3"/>
<line x1="205.6" y1="678.7" x2="706.5" y2="678.7" stroke="#555" stroke-width="1.3"/>
<line x1="205.6" y1="733.0" x2="706.5" y2="733.0" stroke="#555" stroke-width="1.3"/>
<line x1="205.6" y1="760.1" x2="706.5" y2="760.1" stroke="#555" stroke-width="1.3"/>
<line x1="101.6" y1="706.0" x2="706.5" y2="706.0" stroke="#555" stroke-width="1.3"/>
<line x1="205.6" y1="597.6" x2="205.6" y2="787.7" stroke="#555" stroke-width="1.3"/>
<line x1="311.9" y1="624.1" x2="311.9" y2="787.7" stroke="#555" stroke-width="1.3"/>
<line x1="418.3" y1="597.6" x2="418.3" y2="787.7" stroke="#555" stroke-width="1.3"/>
<line x1="513.9" y1="597.6" x2="513.9" y2="787.7" stroke="#555" stroke-width="1.3"/>
<line x1="610.0" y1="597.6" x2="610.0" y2="787.7" stroke="#555" stroke-width="1.3"/>
<rect x="101.6" y="597.6" width="604.9" height="190.10000000000002" fill="none" stroke="#5b5a60" stroke-width="2.8"/>
<text class="tk" x="152.5" y="616.4" text-anchor="middle" textLength="39" lengthAdjust="spacingAndGlyphs">Name</text>
<text class="tk" x="319.5" y="616.2" text-anchor="middle" textLength="130" lengthAdjust="spacingAndGlyphs">Caliber parameters</text>
<text class="tg" x="465.5" y="617" text-anchor="middle" style="font-size:15.5px">L</text>
<text class="tg" x="563" y="616.8" text-anchor="middle" style="font-size:15.5px">H</text>
<text class="tg" x="658.5" y="616.8" text-anchor="middle" style="font-size:16px;letter-spacing:0.8px">Kv</text>
<text class="tk" x="152.8" y="660.6" text-anchor="middle" textLength="59" lengthAdjust="spacingAndGlyphs">Two-way</text>
<text class="tk" x="154" y="679.4" text-anchor="middle" textLength="88" lengthAdjust="spacingAndGlyphs">electric valve</text>
<text class="tk" x="152" y="744.4" text-anchor="middle" textLength="71" lengthAdjust="spacingAndGlyphs">Three-way</text>
<text class="tk" x="154" y="762.5" text-anchor="middle" textLength="88" lengthAdjust="spacingAndGlyphs">electric valve</text>
<text class="tg" x="259.8" y="646.1" text-anchor="middle">1/2 &quot;</text>
<text class="tg" x="364.8" y="646.1" text-anchor="middle">DN15</text>
<text class="tg" x="466.6" y="646.1" text-anchor="middle">90</text>
<text class="tg" x="563.2" y="646.1" text-anchor="middle">116</text>
<text class="tg" x="658.0" y="646.1" text-anchor="middle">2.7</text>
<text class="tg" x="259.8" y="673.6" text-anchor="middle">3/4 &quot;</text>
<text class="tg" x="364.8" y="673.6" text-anchor="middle">DN20</text>
<text class="tg" x="466.6" y="673.6" text-anchor="middle">95</text>
<text class="tg" x="563.2" y="673.6" text-anchor="middle">118</text>
<text class="tg" x="658.0" y="673.6" text-anchor="middle">4.9</text>
<text class="tg" x="259.8" y="700.7" text-anchor="middle">1 &quot;</text>
<text class="tg" x="364.8" y="700.7" text-anchor="middle">DN25</text>
<text class="tg" x="466.6" y="700.7" text-anchor="middle">95</text>
<text class="tg" x="563.2" y="700.7" text-anchor="middle">125</text>
<text class="tg" x="658.0" y="700.7" text-anchor="middle">5.8</text>
<text class="tg" x="259.8" y="728.0" text-anchor="middle">1/2 &quot;</text>
<text class="tg" x="364.8" y="728.0" text-anchor="middle">DN15</text>
<text class="tg" x="466.6" y="728.0" text-anchor="middle">90</text>
<text class="tg" x="563.2" y="728.0" text-anchor="middle">130</text>
<text class="tg" x="658.0" y="728.0" text-anchor="middle">2.6</text>
<text class="tg" x="259.8" y="755.0" text-anchor="middle">3/4 &quot;</text>
<text class="tg" x="364.8" y="755.0" text-anchor="middle">DN20</text>
<text class="tg" x="466.6" y="755.0" text-anchor="middle">95</text>
<text class="tg" x="563.2" y="755.0" text-anchor="middle">133</text>
<text class="tg" x="658.0" y="755.0" text-anchor="middle">4.7</text>
<text class="tg" x="259.8" y="782.1" text-anchor="middle">1 &quot;</text>
<text class="tg" x="364.8" y="782.1" text-anchor="middle">DN25</text>
<text class="tg" x="466.6" y="782.1" text-anchor="middle">95</text>
<text class="tg" x="563.2" y="782.1" text-anchor="middle">141</text>
<text class="tg" x="658.0" y="782.1" text-anchor="middle">5.5</text>
</g>
</svg>
</body>
</html>
